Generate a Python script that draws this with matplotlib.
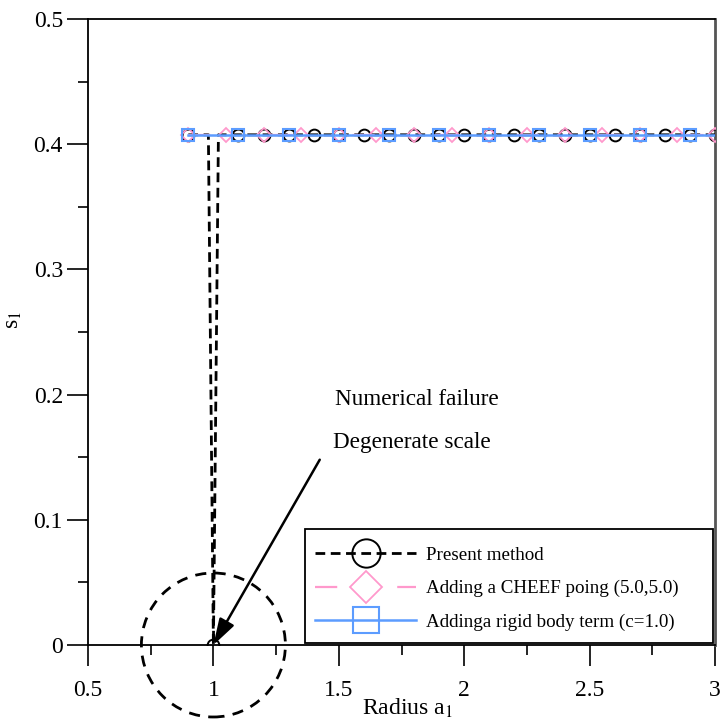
import numpy as np
import matplotlib
matplotlib.use("Agg")
import matplotlib.pyplot as plt
from matplotlib.patches import Ellipse, Rectangle
from matplotlib.ticker import MultipleLocator

plt.rcParams['font.family'] = ['Liberation Serif', 'DejaVu Serif']
plt.rcParams['mathtext.fontset'] = 'stix'

# Present method
x_present = [0.9, 0.98, 1.0, 1.02, 1.1, 1.2, 1.3, 1.4, 1.5, 1.6, 1.7, 1.8, 1.9, 2.0,
             2.1, 2.2, 2.3, 2.4, 2.5, 2.6, 2.7, 2.8, 2.9, 3.0]
s_present = [0.4075, 0.4075, 0.0, 0.4075] + [0.4075] * 20
present_marks = [0, 2] + list(range(4, 24))

# CHEEF point
x_cheef = [0.9, 1.05, 1.2, 1.35, 1.5, 1.65, 1.8, 1.95, 2.1, 2.25, 2.4, 2.55, 2.7, 2.85, 3.0]
s_cheef = [0.4075] * 15

# Rigid body term
x_rigid = [0.9, 1.1, 1.3, 1.5, 1.7, 1.9, 2.1, 2.3, 2.5, 2.7, 2.9, 3.0]
s_rigid = [0.4075] * 12
rigid_marks = list(range(0, 11))

labels = ["Present method", "Adding a CHEEF poing (5.0,5.0)", "Addinga rigid body term (c=1.0)"]

fig = plt.figure(figsize=(7.21, 7.20), dpi=100)
ax = fig.add_axes([88/721, 75/720, 627/721, 626/720])

ax.plot(x_present, s_present, color='black', ls=(0, (3.5, 2)), lw=2.0,
        marker='o', ms=8.5, mfc='none', mec='black', mew=1.4,
        markevery=present_marks, label=labels[0], zorder=3)
ax.plot(x_cheef, s_cheef, color='#ff99cc', ls=(0, (10, 27)), lw=1.6,
        marker='D', ms=7, mfc='none', mec='#ff99cc', mew=1.3,
        label=labels[1], zorder=4)
ax.plot(x_rigid, s_rigid, color='#5c9cff', ls='-', lw=1.8,
        marker='s', ms=8, mfc='none', mec='#5c9cff', mew=1.5,
        markevery=rigid_marks, label=labels[2], zorder=5)

ax.set_xlim(0.5, 3.0)
ax.set_ylim(0, 0.5)
ax.xaxis.set_minor_locator(MultipleLocator(0.25))
ax.yaxis.set_minor_locator(MultipleLocator(0.05))
ax.set_xticks([0.5, 1, 1.5, 2, 2.5, 3])
ax.set_xticklabels(['0.5', '1', '1.5', '2', '2.5', '3'])
ax.set_yticks([0, 0.1, 0.2, 0.3, 0.4, 0.5])
ax.set_yticklabels(['0', '0.1', '0.2', '0.3', '0.4', '0.5'])
ax.tick_params(which='major', direction='out', length=15, width=1.2, labelsize=17)
ax.tick_params(which='minor', direction='out', length=7, width=1.2)
ax.tick_params(axis='x', which='major', pad=10)
ax.tick_params(axis='y', which='major', pad=3)
for sp in ax.spines.values():
    sp.set_linewidth(1.3)
ax.spines['right'].set_color('#555555')
ax.spines['right'].set_linewidth(2)

ax.set_xlabel(r'Radius a$_1$', fontsize=17)
ax.xaxis.set_label_coords(0.509, -0.083)
ax.set_ylabel(r's$_1$', fontsize=17)
ax.yaxis.set_label_coords(-0.102, 0.52)

# Degenerate scale annotation
ell = Ellipse((1.0, 0.0), width=2 * 72 / 250.8, height=2 * 72 / 1252, fill=False,
              ls=(0, (4, 3)), lw=2.0, color='black', clip_on=False, zorder=6)
ax.add_patch(ell)
ax.annotate('', xy=(1.0, 0.0), xytext=(1.424, 0.148),
            arrowprops=dict(arrowstyle='-|>,head_length=1.6,head_width=0.5',
                            color='black', lw=1.8, shrinkA=0, shrinkB=0), zorder=7)
ax.text(1.484, 0.192, 'Numerical failure', fontsize=16.7, ha='left', va='baseline')
ax.text(1.476, 0.157, 'Degenerate scale', fontsize=16.7, ha='left', va='baseline')

# legend frame (wider on the right, as in the reference)
frame = Rectangle((0.346, 0.003), 0.997 - 0.346, 0.185 - 0.003, transform=ax.transAxes,
                  fill=True, facecolor='white', edgecolor='black', lw=1.3, zorder=9)
ax.add_patch(frame)
leg = ax.legend(loc='center', bbox_to_anchor=(0.652, 0.090), fontsize=13.7,
                markerscale=2.4, handlelength=5.3, frameon=False,
                borderpad=0.0, labelspacing=0.85, handletextpad=0.5)
leg.set_zorder(10)

fig.savefig('out.png', dpi=100)
